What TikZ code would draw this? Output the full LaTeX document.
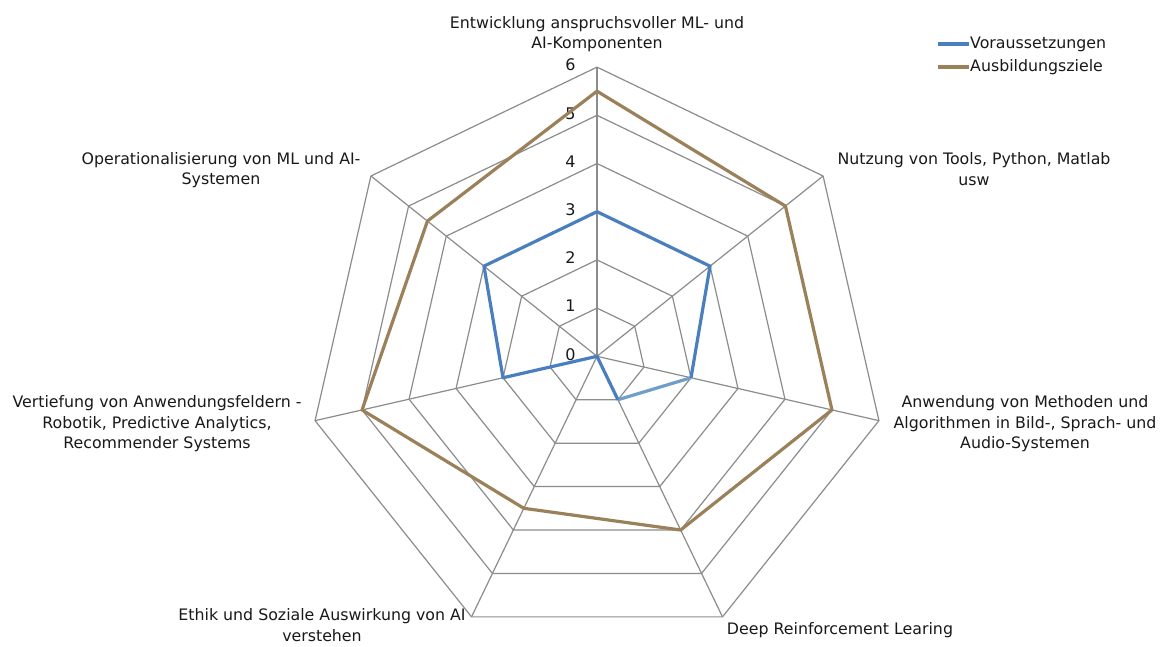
\documentclass[tikz,border=0pt]{standalone}
\usepackage{fontspec}
\setmainfont{DejaVu Sans}
\usetikzlibrary{calc}
\begin{document}
\begin{tikzpicture}[x=1pt,y=-1pt,
  grid/.style={draw=gridgray, line width=1.2pt},
  vor/.style={draw=blueline, line width=3.2pt, line join=round},
  aus/.style={draw=brownline, line width=3.2pt, line join=round},
  lab/.style={font=\fontsize{15.8}{20.5}\selectfont, align=center, text=black!90},
  num/.style={font=\fontsize{16}{18}\selectfont, text=black!90, anchor=east}]
\definecolor{gridgray}{HTML}{8C8C8C}
\definecolor{blueline}{HTML}{4A7EBF}
\definecolor{lightblue}{HTML}{6F9FC9}
\definecolor{brownline}{HTML}{9A8159}
\useasboundingbox (0,0) rectangle (1161,646);
\fill[white] (0,0) rectangle (1161,646);
\coordinate (c) at (597,356.3);
\def\u{48.2}
% grid rings (angles negated because y axis points down)
\foreach \r in {1,...,6}{
  \draw[grid] ($(c)+(-90:\r*\u)$)
    \foreach \k in {1,...,6}{ -- ($(c)+({\k*360/7-90}:\r*\u)$) } -- cycle;
}
\foreach \k in {0,...,6}{
  \coordinate (v\k) at ($(c)+({\k*360/7-90}:6*\u)$);
  \draw[grid] (c) -- (v\k);
}
% numbers
\foreach \r in {0,...,6}{
  \node[num] (n\r) at ($(c)+(-18,-\r*\u-2)$) {\r};
}
% Ausbildungsziele
\coordinate (b0) at ($(c)+(-90:5.5*\u)$);
\coordinate (b1) at ($(c)+({360/7-90}:5*\u)$);
\coordinate (b2) at ($(c)+({2*360/7-90}:5*\u)$);
\coordinate (b3) at ($(c)+({3*360/7-90}:4*\u)$);
\coordinate (b4) at ($(c)+({4*360/7-90}:3.5*\u)$);
\coordinate (b5) at ($(c)+({5*360/7-90}:5*\u)$);
\coordinate (b6) at ($(c)+({6*360/7-90}:4.5*\u)$);
\draw[aus] (b0) -- (b1) -- (b2) -- (b3) -- (b4) -- (b5) -- (b6) -- cycle;
% Voraussetzungen
\coordinate (a0) at ($(c)+(-90:3*\u)$);
\coordinate (a1) at ($(c)+({360/7-90}:3*\u)$);
\coordinate (a2) at ($(c)+({2*360/7-90}:2*\u)$);
\coordinate (a3) at ($(c)+({3*360/7-90}:1*\u)$);
\coordinate (a5) at ($(c)+({5*360/7-90}:2*\u)$);
\coordinate (a6) at ($(c)+({6*360/7-90}:3*\u)$);
\draw[draw=lightblue, line width=3.2pt] (a3) -- (a2);
\draw[vor] (a2) -- (a1) -- (a0) -- (a6) -- (a5) -- (c) -- (a3);
% axis labels
\node[lab] (l0) at (597,34) {Entwicklung anspruchsvoller ML- und\\AI-Komponenten};
\node[lab] (l1) at (974,169) {Nutzung von Tools, Python, Matlab\\usw};
\node[lab] (l2) at (1025,424) {Anwendung von Methoden und\\Algorithmen in Bild-, Sprach- und\\Audio-Systemen};
\node[lab] (l3) at (840,630) {Deep Reinforcement Learing};
\node[lab] (l4) at (322,625) {Ethik und Soziale Auswirkung von AI\\verstehen};
\node[lab] (l5) at (157,424) {Vertiefung von Anwendungsfeldern -\\Robotik, Predictive Analytics,\\Recommender Systems};
\node[lab] (l6) at (221,170) {Operationalisierung von ML und AI-\\Systemen};
% legend
\coordinate (lg1a) at (938,44); \coordinate (lg1b) at (969,44);
\coordinate (lg2a) at (938,67); \coordinate (lg2b) at (969,67);
\draw[vor] (lg1a) -- (lg1b);
\draw[aus] (lg2a) -- (lg2b);
\node[lab, anchor=west, inner sep=1pt] (t1) at (lg1b) {Voraussetzungen};
\node[lab, anchor=west, inner sep=1pt] (t2) at (lg2b) {Ausbildungsziele};
\end{tikzpicture}
\end{document}
